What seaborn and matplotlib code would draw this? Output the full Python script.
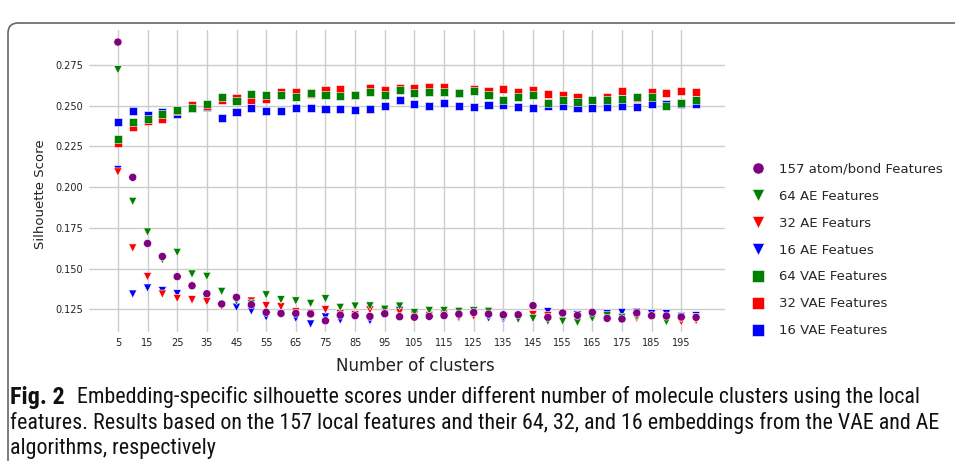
import matplotlib
matplotlib.use("Agg")
import matplotlib.pyplot as plt
import matplotlib.font_manager as fm
import numpy as np
import pandas as pd
import seaborn as sns
from matplotlib.lines import Line2D
from matplotlib.path import Path
from matplotlib.patches import PathPatch
from matplotlib.transforms import IdentityTransform

# Number of clusters evaluated
clusters = list(range(5, 201, 5))

# Silhouette scores per feature set
atom_bond_157 = [0.2891, 0.2060, 0.1654, 0.1574, 0.1450, 0.1394, 0.1345, 0.1282, 0.1323, 0.1278,
                 0.1231, 0.1224, 0.1225, 0.1221, 0.1179, 0.1214, 0.1210, 0.1206, 0.1222, 0.1204,
                 0.1201, 0.1206, 0.1211, 0.1220, 0.1230, 0.1220, 0.1216, 0.1216, 0.1272, 0.1200,
                 0.1227, 0.1212, 0.1231, 0.1194, 0.1190, 0.1227, 0.1210, 0.1208, 0.1202, 0.1200]
ae_64 = [0.2721, 0.1912, 0.1724, 0.1554, 0.1599, 0.1466, 0.1452, 0.1359, 0.1300, 0.1284,
         0.1338, 0.1308, 0.1301, 0.1285, 0.1314, 0.1261, 0.1269, 0.1270, 0.1250, 0.1269,
         0.1229, 0.1242, 0.1242, 0.1237, 0.1241, 0.1237, 0.1200, 0.1188, 0.1192, 0.1176,
         0.1176, 0.1169, 0.1194, 0.1210, 0.1200, 0.1206, 0.1205, 0.1173, 0.1195, 0.1200]
ae_32 = [0.2093, 0.1626, 0.1450, 0.1343, 0.1316, 0.1308, 0.1296, 0.1267, 0.1315, 0.1300,
         0.1271, 0.1265, 0.1234, 0.1225, 0.1247, 0.1222, 0.1216, 0.1246, 0.1240, 0.1231,
         0.1215, 0.1212, 0.1224, 0.1202, 0.1207, 0.1215, 0.1205, 0.1210, 0.1216, 0.1210,
         0.1202, 0.1205, 0.1215, 0.1200, 0.1200, 0.1194, 0.1206, 0.1200, 0.1173, 0.1180]
ae_16 = [0.2107, 0.1343, 0.1380, 0.1364, 0.1345, 0.1305, 0.1300, 0.1270, 0.1262, 0.1239,
         0.1202, 0.1222, 0.1194, 0.1159, 0.1202, 0.1183, 0.1210, 0.1179, 0.1225, 0.1243,
         0.1212, 0.1205, 0.1210, 0.1196, 0.1210, 0.1196, 0.1188, 0.1210, 0.1215, 0.1235,
         0.1215, 0.1215, 0.1220, 0.1222, 0.1229, 0.1231, 0.1222, 0.1222, 0.1205, 0.1210]
vae_64 = [0.2297, 0.2400, 0.2418, 0.2449, 0.2475, 0.2486, 0.2510, 0.2551, 0.2527, 0.2572,
          0.2563, 0.2568, 0.2551, 0.2578, 0.2568, 0.2557, 0.2568, 0.2582, 0.2565, 0.2596,
          0.2578, 0.2584, 0.2584, 0.2580, 0.2592, 0.2563, 0.2537, 0.2555, 0.2565, 0.2516,
          0.2537, 0.2525, 0.2535, 0.2535, 0.2539, 0.2551, 0.2553, 0.2500, 0.2514, 0.2535]
vae_32 = [0.2271, 0.2369, 0.2404, 0.2418, 0.2470, 0.2506, 0.2500, 0.2537, 0.2547, 0.2533,
          0.2541, 0.2582, 0.2582, 0.2575, 0.2594, 0.2604, 0.2566, 0.2609, 0.2598, 0.2611,
          0.2607, 0.2615, 0.2613, 0.2578, 0.2602, 0.2588, 0.2604, 0.2582, 0.2596, 0.2570,
          0.2563, 0.2553, 0.2533, 0.2553, 0.2588, 0.2547, 0.2584, 0.2578, 0.2588, 0.2582]
vae_16 = [0.2402, 0.2467, 0.2445, 0.2461, 0.2449, 0.2485, 0.2490, 0.2426, 0.2463, 0.2484,
          0.2467, 0.2469, 0.2486, 0.2486, 0.2479, 0.2482, 0.2473, 0.2482, 0.2496, 0.2533,
          0.2512, 0.2498, 0.2516, 0.2500, 0.2494, 0.2502, 0.2502, 0.2490, 0.2486, 0.2498,
          0.2498, 0.2484, 0.2484, 0.2490, 0.2496, 0.2492, 0.2508, 0.2508, 0.2510, 0.2510]

series_names = ["157 atom/bond Features", "64 AE Features", "32 AE Featurs", "16 AE Featues",
                "64 VAE Features", "32 VAE Features", "16 VAE Features"]
series_values = [atom_bond_157, ae_64, ae_32, ae_16, vae_64, vae_32, vae_16]
series_colors = ["#800080", "#008000", "#ff0000", "#0000ff", "#008000", "#ff0000", "#0000ff"]
series_markers = ["o", "v", "v", "v", "s", "s", "s"]

x_ticks = list(range(5, 200, 10))
y_ticks = [0.125, 0.150, 0.175, 0.200, 0.225, 0.250, 0.275]

caption_bold = "Fig. 2"
caption_lines = [
    "Embedding-specific silhouette scores under different number of molecule clusters using the local",
    "features. Results based on the 157 local features and their 64, 32, and 16 embeddings from the VAE and AE",
    "algorithms, respectively",
]

# Long-form table; the raw-feature series goes last so it is drawn on top
frames = []
for name, vals in reversed(list(zip(series_names, series_values))):
    frames.append(pd.DataFrame({"clusters": clusters, "score": vals, "series": name}))
df = pd.concat(frames, ignore_index=True)

sns.set_theme(style="whitegrid")
plt.rcParams["font.family"] = ["DejaVu Sans"]

W, H = 955, 461
fig = plt.figure(figsize=(W / 100, H / 100), dpi=100)
ax_left, ax_right, ax_top, ax_bottom = 89, 725, 30, 332
ax = fig.add_axes([ax_left / W, 1 - ax_bottom / H, (ax_right - ax_left) / W,
                   (ax_bottom - ax_top) / H])

sns.scatterplot(
    data=df, x="clusters", y="score",
    hue="series", style="series",
    hue_order=series_names, style_order=series_names,
    palette=dict(zip(series_names, series_colors)),
    markers=dict(zip(series_names, series_markers)),
    s=34, edgecolor="white", linewidth=0.4,
    legend=False, ax=ax,
)

ax.set_xlim(-4.75, 209.75)
ax.set_ylim(0.111, 0.2965)
ax.set_xticks(x_ticks)
ax.set_xticklabels([str(t) for t in x_ticks], fontsize=7)
ax.set_yticks(y_ticks)
ax.set_yticklabels([f"{t:.3f}" for t in y_ticks], fontsize=7)
ax.tick_params(axis="both", length=0, pad=4, colors="#222222")
ax.grid(True, color="#cccccc", linewidth=1.0)
ax.set_xlabel("Number of clusters", fontsize=12, color="#222222")
ax.set_ylabel("Silhouette Score", fontsize=9.5, color="#222222")
# axis titles placed in pixel terms relative to the plotting area
ax.xaxis.set_label_coords((415 - ax_left) / (ax_right - ax_left),
                          -(366 - ax_bottom) / (ax_bottom - ax_top))
ax.yaxis.set_label_coords(-(ax_left - 40) / (ax_right - ax_left),
                          (ax_bottom - 194) / (ax_bottom - ax_top))
ax.xaxis.label.set_verticalalignment("center")
ax.yaxis.label.set_verticalalignment("center")
sns.despine(ax=ax, left=True, bottom=True)

handles = [Line2D([], [], linestyle="none", marker=m, markersize=8, color=c,
                  markeredgecolor="white", markeredgewidth=0.4)
           for m, c in zip(series_markers, series_colors)]
ax.legend(handles, series_names, loc="upper left",
          bbox_to_anchor=(750 / W, 1 - 163 / H), bbox_transform=fig.transFigure,
          frameon=False, fontsize=9.5, borderpad=0, borderaxespad=0,
          handlelength=1.2, handletextpad=1.0, labelspacing=1.05)

# Caption underneath the chart, in a narrow face when one is available
names = sorted({f.name for f in fm.fontManager.ttflist})
narrow = [n for n in names if ("Narrow" in n or "Condensed" in n) and "CJK" not in n]
preferred = ["Liberation Sans Narrow", "Roboto Condensed", "Open Sans Condensed",
             "DejaVu Sans Condensed"]
cap_face = next((p for p in preferred if p in narrow), narrow[0] if narrow else "Roboto")
cap_family = [cap_face, "DejaVu Sans"]

renderer = fig.canvas.get_renderer()
line_y = [397, 423, 448]
probe = 10.0
gap = 0.75


def text_width(s, weight="normal", size=probe):
    t = fig.text(0, 0, s, fontsize=size, fontweight=weight, family=cap_family)
    w = t.get_window_extent(renderer).width
    t.remove()
    return w


wb = text_width(caption_bold, "bold", probe * 1.1)
w1 = text_width(caption_lines[0])
w2 = text_width(caption_lines[1])
# first line ends near x = 940 px, second near x = 934 px
cap_size = min(16.0,
               probe * (940 - 10) / (wb + w1 + gap * probe),
               probe * (934 - 10) / w2)

bold = fig.text(10 / W, 1 - line_y[0] / H, caption_bold, fontsize=cap_size * 1.1,
                fontweight="bold", family=cap_family, va="center", ha="left", color="#111111")
bb = bold.get_window_extent(renderer)
fig.text((bb.x1 + gap * cap_size) / W, 1 - line_y[0] / H, caption_lines[0], fontsize=cap_size,
         family=cap_family, va="center", ha="left", color="#111111")
for txt, yy in zip(caption_lines[1:], line_y[1:]):
    fig.text(10 / W, 1 - yy / H, txt, fontsize=cap_size, family=cap_family,
             va="center", ha="left", color="#111111")

# Rounded frame around the figure panel
r = 10
x0, y0 = 8, H - 23
verts = [(x0, -5), (x0, y0 - r), (x0, y0), (x0 + r, y0), (W + 5, y0)]
codes = [Path.MOVETO, Path.LINETO, Path.CURVE3, Path.CURVE3, Path.LINETO]
fig.add_artist(PathPatch(Path(verts, codes), fill=False, edgecolor="#666666",
                         linewidth=1.2, transform=IdentityTransform()))

fig.savefig("out.png", dpi=100)
